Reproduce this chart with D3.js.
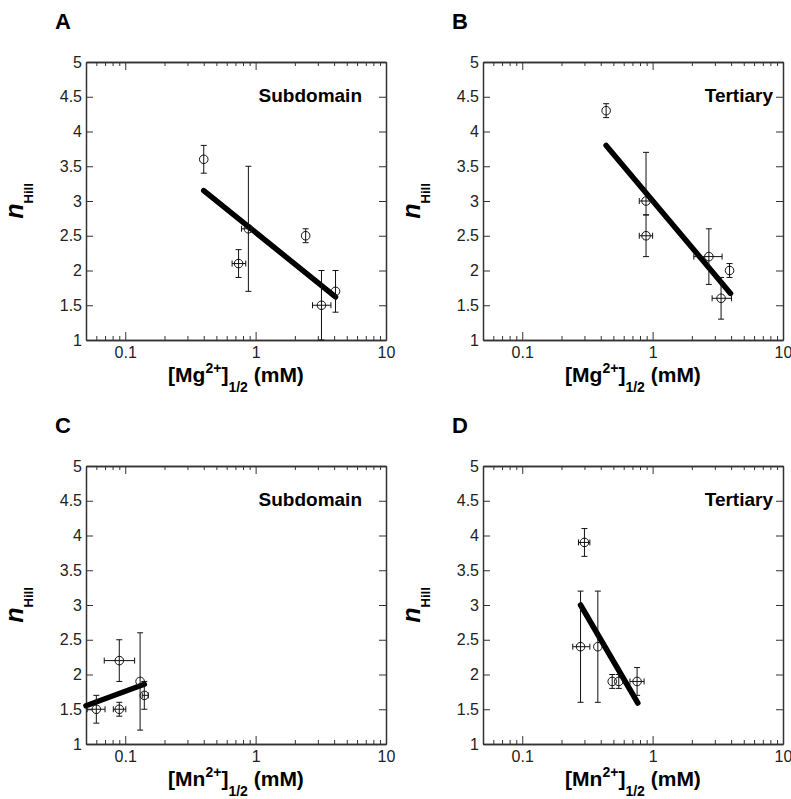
<!DOCTYPE html>
<html>
<head>
<meta charset="utf-8">
<title>nHill vs half-saturation</title>
<script src="https://d3js.org/d3.v7.min.js"></script>
<style>
  body { margin: 0; background: #fff; }
  svg { font-family: "Liberation Sans", Arial, Helvetica, sans-serif; }
  .tick line, .domain { stroke: #333; }
</style>
</head>
<body>
<div id="chart"></div>
<script>
// ---- data ----
const aX    = [0.40, 0.74, 0.88, 2.42, 3.20, 4.10];
const aY    = [3.6, 2.1, 2.6, 2.5, 1.5, 1.7];
const aXLo  = [null, 0.66, 0.78, null, 2.73, null];
const aXHi  = [null, 0.84, 0.93, null, 3.78, null];
const aYLo  = [3.4, 1.9, 1.7, 2.4, 1.0, 1.4];
const aYHi  = [3.8, 2.3, 3.5, 2.6, 2.0, 2.0];
const aFitX = [0.40, 4.10];
const aFitY = [3.15, 1.62];

const bX    = [0.44, 0.89, 0.89, 2.70, 3.89, 3.35];
const bY    = [4.3, 3.0, 2.5, 2.2, 2.0, 1.6];
const bXLo  = [null, 0.79, 0.79, 2.07, null, 2.86];
const bXHi  = [null, 1.00, 1.00, 3.41, null, 4.03];
const bYLo  = [4.2, 2.8, 2.2, 1.8, 1.9, 1.3];
const bYHi  = [4.4, 3.7, 2.8, 2.6, 2.1, 1.9];
const bFitX = [0.44, 3.96];
const bFitY = [3.80, 1.67];

const cX    = [0.060, 0.090, 0.090, 0.130, 0.140];
const cY    = [1.5, 1.5, 2.2, 1.9, 1.7];
const cXLo  = [0.051, 0.081, 0.069, null, 0.135];
const cXHi  = [0.070, 0.101, 0.118, null, 0.150];
const cYLo  = [1.3, 1.4, 1.9, 1.2, 1.5];
const cYHi  = [1.7, 1.6, 2.5, 2.6, 1.9];
const cFitX = [0.05, 0.14];
const cFitY = [1.55, 1.86];

const dX    = [0.30, 0.28, 0.38, 0.49, 0.55, 0.76];
const dY    = [3.9, 2.4, 2.4, 1.9, 1.9, 1.9];
const dXLo  = [0.27, 0.244, null, null, null, 0.67];
const dXHi  = [0.33, 0.33, null, null, null, 0.86];
const dYLo  = [3.7, 1.6, 1.6, 1.8, 1.8, 1.7];
const dYHi  = [4.1, 3.2, 3.2, 2.0, 2.0, 2.1];
const dFitX = [0.28, 0.77];
const dFitY = [3.00, 1.59];

const yTicks = [1, 1.5, 2, 2.5, 3, 3.5, 4, 4.5, 5];
const xMajor = [0.1, 1, 10];
const xMinor = [0.05, 0.06, 0.07, 0.08, 0.09, 0.2, 0.3, 0.4, 0.5, 0.6, 0.7, 0.8, 0.9,
                2, 3, 4, 5, 6, 7, 8, 9];

const panels = [
  { letter: "A", ion: "Mg", label: "Subdomain", x: aX, y: aY, xlo: aXLo, xhi: aXHi, ylo: aYLo, yhi: aYHi, fx: aFitX, fy: aFitY, left: 86,  top: 62 },
  { letter: "B", ion: "Mg", label: "Tertiary",  x: bX, y: bY, xlo: bXLo, xhi: bXHi, ylo: bYLo, yhi: bYHi, fx: bFitX, fy: bFitY, left: 483, top: 62 },
  { letter: "C", ion: "Mn", label: "Subdomain", x: cX, y: cY, xlo: cXLo, xhi: cXHi, ylo: cYLo, yhi: cYHi, fx: cFitX, fy: cFitY, left: 86,  top: 466 },
  { letter: "D", ion: "Mn", label: "Tertiary",  x: dX, y: dY, xlo: dXLo, xhi: dXHi, ylo: dYLo, yhi: dYHi, fx: dFitX, fy: dFitY, left: 483, top: 466 }
];

const W = 300, H = 278;

const svg = d3.select("#chart").append("svg")
  .attr("width", 791).attr("height", 799);

panels.forEach(p => {
  const g = svg.append("g").attr("transform", `translate(${p.left},${p.top})`);

  const x = d3.scaleLog().domain([0.05, 10]).range([0, W]);
  const y = d3.scaleLinear().domain([1, 5]).range([H, 0]);

  // axes, ticks pointing inward
  g.append("g").attr("transform", `translate(0,${H})`)
    .call(d3.axisBottom(x).tickValues(xMinor).tickSize(-4).tickSizeOuter(0).tickFormat(""));
  g.append("g").attr("transform", `translate(0,${H})`)
    .call(d3.axisBottom(x).tickValues(xMajor).tickSize(-8).tickSizeOuter(0).tickPadding(7)
      .tickFormat(d3.format("")));
  g.append("g")
    .call(d3.axisTop(x).tickValues(xMinor).tickSize(-4).tickSizeOuter(0).tickFormat(""));
  g.append("g")
    .call(d3.axisTop(x).tickValues(xMajor).tickSize(-8).tickSizeOuter(0).tickFormat(""));
  g.append("g")
    .call(d3.axisLeft(y).tickValues(yTicks).tickSize(-7).tickSizeOuter(0).tickPadding(4)
      .tickFormat(d3.format("")));
  g.append("g").attr("transform", `translate(${W},0)`)
    .call(d3.axisRight(y).tickValues(yTicks).tickSize(-7).tickSizeOuter(0).tickFormat(""));
  g.selectAll(".domain").attr("stroke-width", 1.5);
  g.selectAll(".tick line").attr("stroke-width", 1);
  g.selectAll(".tick text")
    .attr("font-family", null)
    .style("font-size", "16px")
    .style("fill", "#222");

  // fit line
  const line = d3.line().x(d => x(d[0])).y(d => y(d[1]));
  g.append("path")
    .datum(d3.zip(p.fx, p.fy))
    .attr("d", line)
    .attr("fill", "none")
    .attr("stroke", "#000")
    .attr("stroke-width", 5.5)
    .attr("stroke-linecap", "round");

  // error bars and points
  const pts = p.x.map((v, i) => ({ x: v, y: p.y[i], xlo: p.xlo[i], xhi: p.xhi[i], ylo: p.ylo[i], yhi: p.yhi[i] }));
  const eb = g.append("g").attr("stroke", "#111").attr("stroke-width", 1).attr("fill", "none");
  const cap = 3;
  pts.forEach(d => {
    const cx = x(d.x), cy = y(d.y);
    if (d.ylo != null) {
      eb.append("line").attr("x1", cx).attr("x2", cx).attr("y1", y(d.ylo)).attr("y2", y(d.yhi));
      eb.append("line").attr("x1", cx - cap).attr("x2", cx + cap).attr("y1", y(d.ylo)).attr("y2", y(d.ylo));
      eb.append("line").attr("x1", cx - cap).attr("x2", cx + cap).attr("y1", y(d.yhi)).attr("y2", y(d.yhi));
    }
    if (d.xlo != null) {
      eb.append("line").attr("y1", cy).attr("y2", cy).attr("x1", x(d.xlo)).attr("x2", x(d.xhi));
      eb.append("line").attr("y1", cy - cap).attr("y2", cy + cap).attr("x1", x(d.xlo)).attr("x2", x(d.xlo));
      eb.append("line").attr("y1", cy - cap).attr("y2", cy + cap).attr("x1", x(d.xhi)).attr("x2", x(d.xhi));
    }
  });
  g.selectAll("circle.pt")
    .data(pts)
    .join("circle")
    .attr("class", "pt")
    .attr("cx", d => x(d.x))
    .attr("cy", d => y(d.y))
    .attr("r", 4.3)
    .attr("fill", "none")
    .attr("stroke", "#111")
    .attr("stroke-width", 1);

  // annotation
  g.append("text")
    .attr("x", p.label === "Tertiary" ? W - 10 : W - 24)
    .attr("y", 40)
    .attr("text-anchor", "end")
    .style("font-size", "19px")
    .style("font-weight", "bold")
    .text(p.label);

  // panel letter
  svg.append("text")
    .attr("x", p.left - 31)
    .attr("y", p.top - 33)
    .style("font-size", "22px")
    .style("font-weight", "bold")
    .text(p.letter);

  // x title
  const xt = g.append("text")
    .attr("x", W / 2)
    .attr("y", H + 42)
    .attr("text-anchor", "middle")
    .style("font-size", "21px")
    .style("font-weight", "bold");
  xt.append("tspan").text(`[${p.ion}`);
  xt.append("tspan").attr("dy", -9).style("font-size", "14px").text("2+");
  xt.append("tspan").attr("dy", 9).text("]");
  xt.append("tspan").attr("dy", 10).style("font-size", "14px").text("1/2");
  xt.append("tspan").attr("dy", -10).text(" (mM)");

  // y title
  const yt = svg.append("text")
    .attr("transform", `translate(${p.left - 63},${p.top + H / 2}) rotate(-90)`)
    .attr("text-anchor", "middle")
    .style("font-weight", "bold");
  yt.append("tspan").style("font-size", "25px").style("font-style", "italic").text("n");
  yt.append("tspan").attr("dy", 10).style("font-size", "13px").text("Hill");
});
</script>
</body>
</html>
